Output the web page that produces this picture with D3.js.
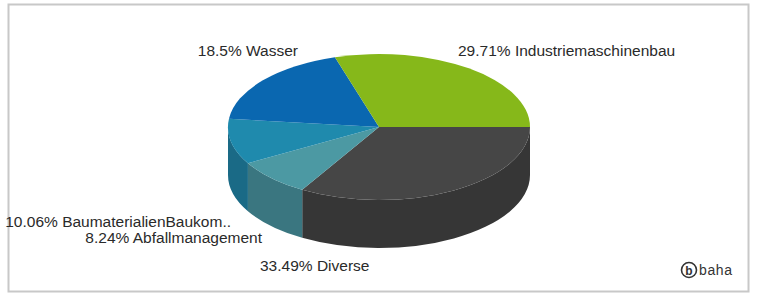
<!DOCTYPE html>
<html>
<head>
<meta charset="utf-8">
<script src="https://cdn.jsdelivr.net/npm/d3@7"></script>
<style>
  body { margin: 0; background: #fff; }
  svg text { font-family: "Liberation Sans", Arial, sans-serif; }
</style>
</head>
<body>
<svg id="chart" width="757" height="293"></svg>
<script>
// data, clockwise from 3 o'clock
var categories = ["Diverse", "Abfallmanagement", "BaumaterialienBaukom..", "Wasser", "Industriemaschinenbau"];
var shares = [33.49, 8.24, 10.06, 18.5, 29.71];
var topColors = ["#464646", "#4c99a3", "#1f8aad", "#0a67b0", "#86b81a"];
var sideColors = ["#363636", "#3a7680", "#1a6a86", "#084f88", "#668e12"];

// label placement (layout only)
var labelPos = [
  {x: 260, y: 271, anchor: "start"},
  {x: 262, y: 243, anchor: "end"},
  {x: 231, y: 227, anchor: "end"},
  {x: 298, y: 56, anchor: "end"},
  {x: 458, y: 56, anchor: "start"}
];

var svg = d3.select("#chart");
var cx = 379, cy = 127, rx = 151, ry = 73, depth = 48;

svg.append("rect")
  .attr("x", 8.5).attr("y", 4.5)
  .attr("width", 740).attr("height", 287)
  .attr("fill", "#fff")
  .attr("stroke", "#c8c8c8")
  .attr("stroke-width", 2);

var data = categories.map(function(c, i){
  return {name: c, value: shares[i], top: topColors[i], side: sideColors[i], lab: labelPos[i]};
});

var pie = d3.pie()
  .sort(null)
  .value(function(d){ return d.value; })
  .startAngle(Math.PI / 2)
  .endAngle(Math.PI / 2 + 2 * Math.PI);

var arcs = pie(data);

// d3 angle -> point on ellipse
function pt(a, dy){
  return [cx + rx * Math.sin(a), cy - ry * Math.cos(a) + (dy || 0)];
}

function topPath(d){
  var p0 = pt(d.startAngle), p1 = pt(d.endAngle);
  var large = (d.endAngle - d.startAngle) > Math.PI ? 1 : 0;
  return "M" + cx + "," + cy + "L" + p0 + "A" + rx + "," + ry + " 0 " + large + " 1 " + p1 + "Z";
}

// front wall: only the part with d3 angle in [pi/2, 3pi/2] faces the viewer
function sidePath(d){
  var s = Math.max(d.startAngle, Math.PI / 2);
  var e = Math.min(d.endAngle, 3 * Math.PI / 2);
  if (e <= s) return null;
  var p0 = pt(s), p1 = pt(e), q1 = pt(e, depth), q0 = pt(s, depth);
  return "M" + p0 + "A" + rx + "," + ry + " 0 0 1 " + p1 +
    "L" + q1 + "A" + rx + "," + ry + " 0 0 0 " + q0 + "Z";
}

var g = svg.append("g");

g.selectAll("path.side")
  .data(arcs.filter(function(d){ return sidePath(d) !== null; }))
  .enter().append("path")
  .attr("class", "side")
  .attr("d", sidePath)
  .attr("fill", function(d){ return d.data.side; });

g.selectAll("path.top")
  .data(arcs)
  .enter().append("path")
  .attr("class", "top")
  .attr("d", topPath)
  .attr("fill", function(d){ return d.data.top; });

var fmt = function(v){ return (+v.toFixed(2)) + "%"; };

svg.selectAll("text.lbl")
  .data(arcs)
  .enter().append("text")
  .attr("class", "lbl")
  .attr("x", function(d){ return d.data.lab.x; })
  .attr("y", function(d){ return d.data.lab.y; })
  .attr("text-anchor", function(d){ return d.data.lab.anchor; })
  .style("font-size", "15.5px")
  .style("fill", "#2a2a2a")
  .text(function(d){ return fmt(d.data.value) + " " + d.data.name; });

// logo
var logo = svg.append("g").attr("transform", "translate(689,270)");
logo.append("circle")
  .attr("r", 7.5)
  .attr("fill", "none")
  .attr("stroke", "#333")
  .attr("stroke-width", 1.6);
logo.append("text")
  .attr("x", 0).attr("y", 4.5)
  .attr("text-anchor", "middle")
  .style("font-size", "12px")
  .style("font-weight", "bold")
  .style("fill", "#333")
  .text("b");
logo.append("text")
  .attr("x", 10).attr("y", 5)
  .style("font-size", "14px")
  .style("letter-spacing", "0.6px")
  .style("fill", "#333")
  .text("baha");
</script>
</body>
</html>
